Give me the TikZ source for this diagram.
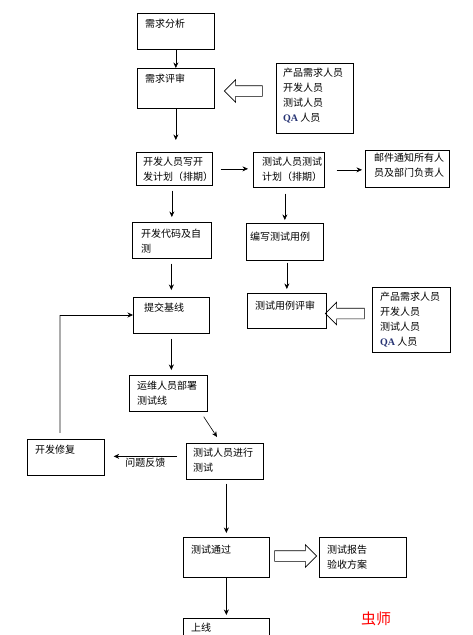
\documentclass[tikz,border=0pt]{standalone}
\usepackage{fontspec}
\setmainfont{Noto Sans CJK SC}
\newfontfamily\qafont{Liberation Serif}
\usepackage{tikz}
\usetikzlibrary{arrows.meta,shapes.arrows}
\definecolor{qablue}{rgb}{0.15,0.2,0.45}
\tikzset{
  box/.style={draw=black,line width=0.7pt,anchor=north west,inner sep=0pt},
  txt/.style={anchor=north west,inner sep=0pt,align=left,font=\fontsize{10}{15}\selectfont},
  arr/.style={draw=black,line width=0.6pt,-{Stealth[length=5.5pt,width=5pt]}},
  hollow/.style={draw=black,line width=0.6pt,single arrow,inner sep=5pt,
    single arrow head extend=6pt,minimum height=38pt},
}

\begin{document}
\begin{tikzpicture}[x=1pt,y=-1pt]
\useasboundingbox (0,0) rectangle (472,635);
% left column:
\node[box,minimum width=77pt,minimum height=36pt] (xqfx) at (137,13) {};
\node[txt] (xqfxt) at ([shift={(8,6)}]xqfx.north west) {需求分析};
\node[box,minimum width=77pt,minimum height=40pt] (xqps) at (137,68) {};
\node[txt] (xqpst) at ([shift={(8,6)}]xqps.north west) {需求评审};
\node[box,minimum width=76pt,minimum height=33pt] (kfjh) at (136,152) {};
\node[txt] (kfjht) at ([shift={(7,5)}]kfjh.north west) {开发人员写开\\发计划（排期）};
\node[box,minimum width=79pt,minimum height=36pt] (kfdm) at (132,222) {};
\node[txt] (kfdmt) at ([shift={(9,7)}]kfdm.north west) {开发代码及自\\测};
\node[box,minimum width=76pt,minimum height=36pt] (tjjx) at (133,297) {};
\node[txt] (tjjxt) at ([shift={(11,6)}]tjjx.north west) {提交基线};
\node[box,minimum width=78pt,minimum height=36pt] (ywbs) at (129,375) {};
\node[txt] (ywbst) at ([shift={(8,6)}]ywbs.north west) {运维人员部署\\测试线};
\node[box,minimum width=77pt,minimum height=36pt] (kfxf) at (27,439) {};
\node[txt] (kfxft) at ([shift={(8,6)}]kfxf.north west) {开发修复};
\node[box,minimum width=77pt,minimum height=36pt] (csjx) at (186,443) {};
\node[txt] (csjxt) at ([shift={(7,5)}]csjx.north west) {测试人员进行\\测试};
\node[box,minimum width=86pt,minimum height=40pt] (cstg) at (183,537) {};
\node[txt] (cstgt) at ([shift={(8,8)}]cstg.north west) {测试通过};
\node[box,minimum width=86pt,minimum height=40pt] (sx) at (183,618) {};
\node[txt] (sxt) at ([shift={(8,5)}]sx.north west) {上线};
% right column:
\node[box,minimum width=71pt,minimum height=35pt] (csjh) at (253,152) {};
\node[txt] (csjht) at ([shift={(9,5)}]csjh.north west) {测试人员测试\\计划（排期）};
\node[box,minimum width=84pt,minimum height=37pt] (yjtz) at (365,150) {};
\node[txt] (yjtzt) at ([shift={(9,3)}]yjtz.north west) {邮件通知所有人\\员及部门负责人};
\node[box,minimum width=77pt,minimum height=37pt] (bxyl) at (246,223) {};
\node[txt] (bxylt) at ([shift={(4,9)}]bxyl.north west) {编写测试用例};
\node[box,minimum width=79pt,minimum height=35pt] (ylps) at (247,293) {};
\node[txt] (ylpst) at ([shift={(8,8)}]ylps.north west) {测试用例评审};
\node[box,minimum width=87pt,minimum height=40pt] (bgfa) at (319,537) {};
\node[txt] (bgfat) at ([shift={(8,8)}]bgfa.north west) {测试报告\\验收方案};
% people boxes:
\node[box,minimum width=77pt,minimum height=70pt] (ry1) at (276,63) {};
\node[txt] (ry1t) at ([shift={(7,5)}]ry1.north west)
  {产品需求人员\\开发人员\\测试人员\\{\qafont\bfseries\color{qablue}QA} 人员};
\node[box,minimum width=78pt,minimum height=65pt] (ry2) at (372,287) {};
\node[txt] (ry2t) at ([shift={(8,5)}]ry2.north west)
  {产品需求人员\\开发人员\\测试人员\\{\qafont\bfseries\color{qablue}QA} 人员};
% hollow arrows:
\node[hollow,shape border rotate=180] (ha1) at (246,91) {};
\node[hollow,shape border rotate=180,minimum height=39pt] (ha2) at (347.5,313.5) {};
\node[hollow,minimum height=42pt] (ha3) at (293,556) {};
% arrows:
\draw[arr] (xqfx.south) -- (xqfx.south |- xqps.north);
\draw[arr,shorten >=12pt] (xqps.south) -- (xqps.south |- kfjh.north);
\draw[arr,shorten <=8pt,shorten >=5pt] (kfjh.east) -- (kfjh.east -| csjh.west);
\draw[arr,shorten <=12pt,shorten >=3pt] (csjh.east) -- (csjh.east -| yjtz.west);
\draw[arr,shorten <=5pt,shorten >=5pt] (kfjh.south -| kfdm.north) -- (kfdm.north);
\draw[arr,shorten <=6pt,shorten >=3pt] (csjh.south -| bxyl.north) -- (bxyl.north);
\draw[arr,shorten <=5pt,shorten >=7pt] (kfdm.south -| tjjx.north) -- (tjjx.north);
\draw[arr,shorten <=2pt,shorten >=4pt] (bxyl.south -| ylps.north) -- (ylps.north);
\draw[arr,shorten <=5pt,shorten >=5pt] (tjjx.south) -- (tjjx.south |- ywbs.north);
\draw[arr] ([shift={(-4,5)}]ywbs.south east) -- ([shift={(31,-6)}]csjx.north west);
\draw[arr,shorten <=9pt,shorten >=9pt] ([shift={(0,-5)}]csjx.west)
  -- ([shift={(0,-5)}]csjx.west -| kfxf.east)
  node[midway,below=0pt,inner sep=1pt,font=\fontsize{10}{12}\selectfont] (wtfk) {问题反馈};
\coordinate (hl) at (60,315);
\draw[gray!65,line width=1.1pt,shorten <=6pt] (kfxf.north -| hl) -- (hl);
\draw[arr] (hl) -- (tjjx.west |- hl);
\draw[arr,shorten <=4pt,shorten >=4pt] (csjx.south -| cstg.north) -- (cstg.north);
\draw[arr,shorten >=3pt] (cstg.south) -- (cstg.south |- sx.north);
% mark:
\node[text=red,font=\fontsize{15}{15}\selectfont] (chs) at (376,619) {虫师};
\end{tikzpicture}
\end{document}
